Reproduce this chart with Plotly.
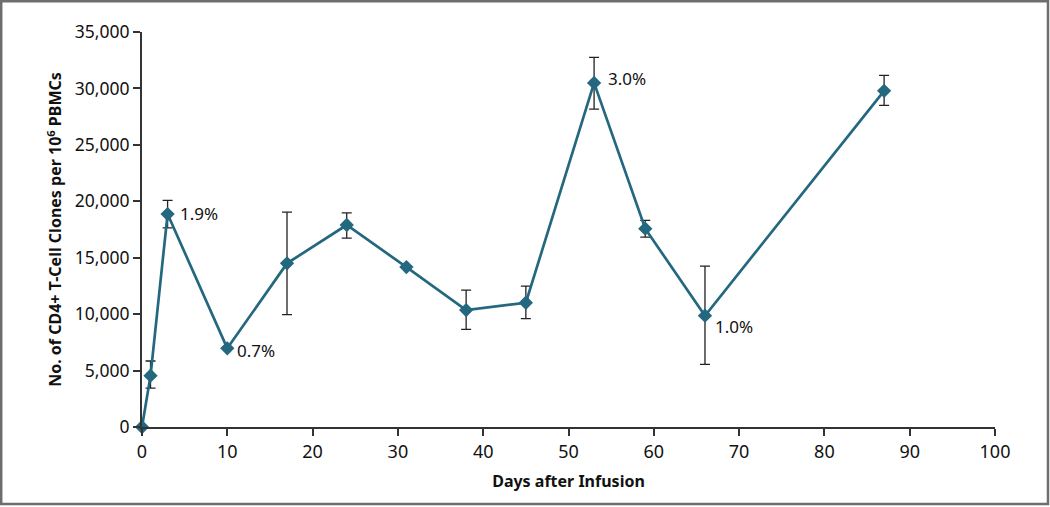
import plotly.graph_objects as go

days = [0, 1, 3, 10, 17, 24, 31, 38, 45, 53, 59, 66, 87]
clones = [0, 4550, 18870, 6970, 14500, 17900, 14170, 10360, 11010, 30490, 17570, 9860, 29790]
err_plus = [0, 1300, 1210, 0, 4540, 1080, 0, 1770, 1480, 2260, 730, 4400, 1360]
err_minus = [0, 1100, 1220, 0, 4550, 1160, 0, 1710, 1410, 2320, 740, 4310, 1300]

label_days = [3, 10, 53, 66]
label_vals = [18870, 6970, 30490, 9860]
label_text = ["1.9%", "0.7%", "3.0%", "1.0%"]
label_dy = [1, -2, 4, -11]
label_dx = [10, 8, 12, 8]

xticks = [0, 10, 20, 30, 40, 50, 60, 70, 80, 90, 100]
yticks = [0, 5000, 10000, 15000, 20000, 25000, 30000, 35000]
yticklabels = ["0", "5,000", "10,000", "15,000", "20,000", "25,000", "30,000", "35,000"]

FONT = "Noto Sans"
LINE = "#24687f"
AX = "#333333"

fig = go.Figure()
fig.add_trace(go.Scatter(
    x=days, y=clones, mode="lines+markers",
    line=dict(color=LINE, width=2.7),
    marker=dict(symbol="diamond", size=11, color=LINE),
    error_y=dict(type="data", symmetric=False, array=err_plus, arrayminus=err_minus,
                 color="#222222", thickness=1.3, width=5),
    cliponaxis=False, showlegend=False,
))

for d, v, t, dy, dx in zip(label_days, label_vals, label_text, label_dy, label_dx):
    fig.add_annotation(x=d, y=v, text=t, showarrow=False, xanchor="left", yanchor="middle",
                       xshift=dx, yshift=dy, font=dict(family=FONT, size=17, color="#111"))

L, R, T, B = 142, 55, 32, 80
W, H = 1050, 507
pw, ph = W - L - R, H - T - B
def px(p):
    return (p - L) / pw
def py(p):
    return (H - B - p) / ph

fig.add_shape(type="rect", xref="paper", yref="paper",
              x0=px(1.2), x1=px(1048), y0=py(1.2), y1=py(504),
              line=dict(color="#6e6e6e", width=2.5), fillcolor="rgba(0,0,0,0)", layer="below")

fig.update_layout(
    width=W, height=H,
    margin=dict(l=L, r=R, t=T, b=B),
    paper_bgcolor="white", plot_bgcolor="white",
    font=dict(family=FONT, size=18, color="#111"),
    xaxis=dict(range=[0, 100], tickvals=xticks, ticks="outside", ticklen=7, tickwidth=1.5,
               tickcolor=AX, showline=True, linecolor=AX, linewidth=1.8, showgrid=False,
               zeroline=False, tickfont=dict(size=18),
               title=dict(text="<b>Days after Infusion</b>", font=dict(size=16), standoff=14)),
    yaxis=dict(range=[0, 35000], tickvals=yticks, ticktext=yticklabels, ticks="outside",
               ticklen=7, tickwidth=1.5, tickcolor=AX, showline=True, linecolor=AX,
               linewidth=1.8, showgrid=False, zeroline=False, tickfont=dict(size=17.5),
               title=dict(text="<b>No. of CD4+ T-Cell Clones per 10<sup>6</sup> PBMCs</b>",
                          font=dict(size=16), standoff=9)),
)

fig.write_html("out.html", config={"displayModeBar": False},
               post_script="document.body.style.margin='0';document.body.style.overflow='hidden';")
